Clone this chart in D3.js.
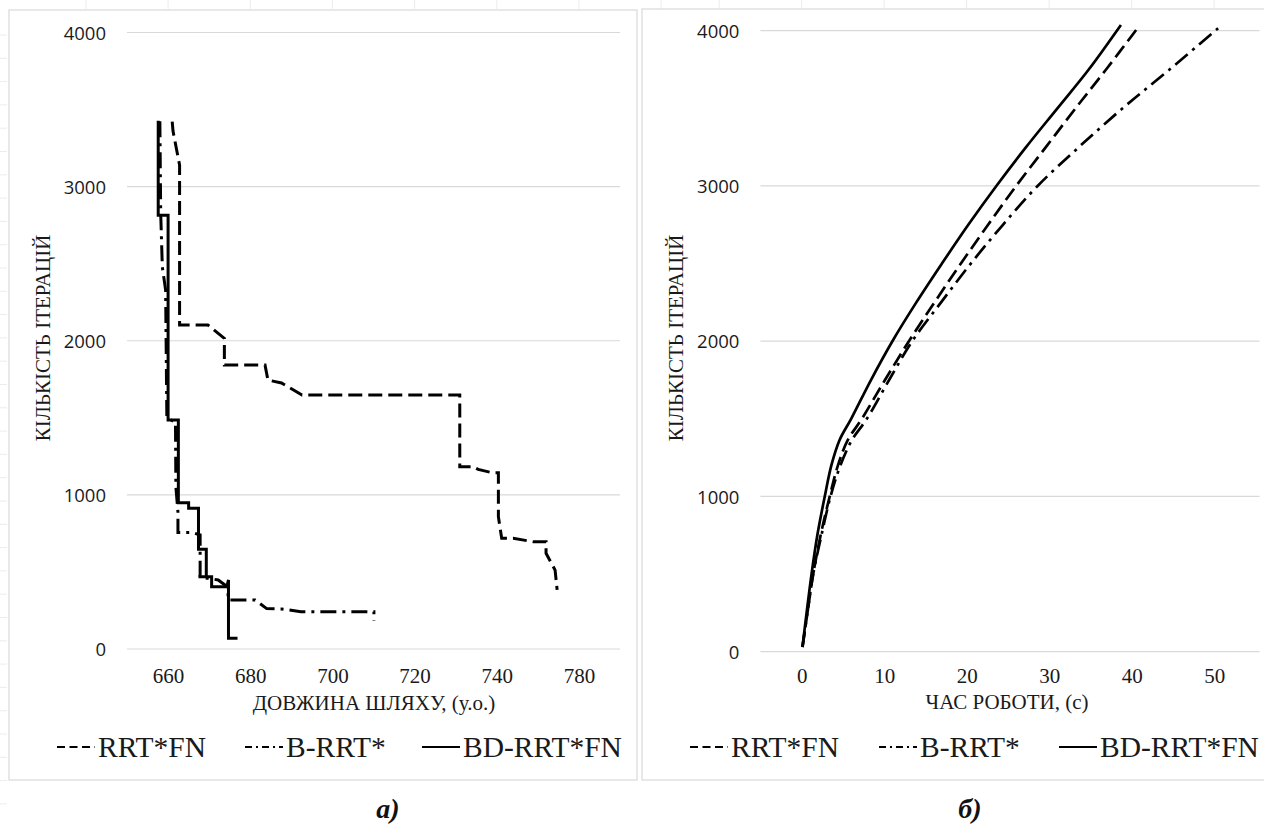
<!DOCTYPE html>
<html>
<head>
<meta charset="utf-8">
<script src="https://cdn.jsdelivr.net/npm/d3@7"></script>
<style>
  html, body { margin: 0; padding: 0; background: #fff; }
  svg { display: block; }
</style>
</head>
<body>
<svg id="chart" width="1264" height="834"></svg>
<script>
// ---------------- DATA ----------------
// Panel a): path length (x) vs iterations (y)
const lenTickValues = [660, 680, 700, 720, 740, 760];
const lenTickLabels = ["660", "680", "700", "720", "740", "780"];
const iterTicks = [0, 1000, 2000, 3000, 4000];

const rrtFnLen = [[661.0,3421],[661.2,3360],[662.8,3140],[662.8,2102],[669.7,2102],[673.7,2015],[673.7,1842],
  [683.6,1842],[684.3,1745],[687.6,1726],[692.6,1648],[731.0,1648],[731.0,1183],[734.2,1183],[735.5,1165],
  [738.8,1144],[740.4,1144],[740.4,858],[741.2,718],[744.0,718],[748.9,696],[752.0,696],[752.0,621],
  [754.2,512],[754.7,383]];
const bRrtLen = [[658.0,3424],[658.2,2830],[658.6,2478],[659.4,2329],[659.7,1500],[661.8,1470],[661.9,1051],
  [662.4,889],[662.4,756],[665.8,756],[667.8,740],[667.8,467],[672.2,448],[674.6,400],[674.6,318],
  [681.2,318],[684.0,262],[687.6,260],[692.3,242],[710.1,242],[710.1,184]];
const bdRrtFnLen = [[657.6,3427],[657.6,2815],[660.0,2815],[660.0,1486],[662.5,1486],[662.5,949],[665.0,949],
  [665.0,913],[667.4,913],[667.4,647],[669.3,647],[669.3,469],[667.4,469],[670.6,469],[670.6,404],
  [674.3,404],[674.7,448],[674.7,69],[676.9,69]];

// Panel б): run time (x) vs iterations (y)
const timeTicks = [0, 10, 20, 30, 40, 50];
const rrtFnTime = [[0.1,30],[0.7,250],[1.4,500],[2.3,750],[3.4,1000],[4.4,1200],[5.6,1364],[7.3,1500],
  [10.1,1750],[13.0,2000],[16.1,2250],[19.3,2500],[22.6,2750],[26.0,3000],[29.6,3250],[33.2,3500],
  [36.9,3750],[40.7,4015]];
const bRrtTime = [[0.1,30],[0.7,250],[1.4,500],[2.4,750],[3.5,1000],[4.7,1200],[6.1,1364],[7.9,1500],
  [10.6,1750],[13.4,2000],[16.9,2250],[20.5,2500],[24.4,2750],[28.6,3000],[33.6,3250],[38.9,3500],
  [44.6,3750],[50.7,4026]];
const bdRrtFnTime = [[0.1,30],[0.6,250],[1.2,500],[1.9,750],[2.8,1000],[3.6,1200],[4.6,1364],[6.0,1500],
  [8.4,1750],[11.0,2000],[13.9,2250],[17.0,2500],[20.2,2750],[23.6,3000],[27.2,3250],[31.0,3500],
  [34.8,3750],[38.7,4037]];

const seriesNames = ["RRT*FN", "B-RRT*", "BD-RRT*FN"];
const xTitleA = "ДОВЖИНА ШЛЯХУ, (у.о.)";
const xTitleB = "ЧАС РОБОТИ, (с)";
const yTitle = "КІЛЬКІСТЬ ІТЕРАЦІЙ";
const captions = ["а)", "б)"];

// ---------------- STYLE ----------------
const chartDash = ["14,6", "16,6,3,6", null];
const legendDash = ["8,4.5", "7,4,2,4", null];
const serif = "'Liberation Serif', 'Times New Roman', serif";
const sans = "'Open Sans', 'Liberation Sans', Arial, sans-serif";

const svg = d3.select("#chart");

// faint page marks outside panels
const faint = "#ececec";

function panel(cfg) {
  const g = svg.append("g");
  // border
  g.append("rect").attr("x", cfg.box[0]).attr("y", cfg.box[1]).attr("width", cfg.box[2]).attr("height", cfg.box[3])
    .attr("fill", "#fff").attr("stroke", "#d9d9d9").attr("stroke-width", 1.2);

  const x = cfg.x, y = cfg.y;
  const [x0, x1] = x.range();
  // gridlines
  g.append("g").selectAll("line").data(iterTicks).join("line")
    .attr("x1", x0).attr("x2", x1)
    .attr("y1", d => y(d)).attr("y2", d => y(d))
    .attr("stroke", "#d9d9d9").attr("stroke-width", 1.2);

  // y axis labels
  const yAxis = d3.axisLeft(y).tickValues(iterTicks).tickSize(0).tickPadding(21).tickFormat(d3.format("d"));
  const ya = g.append("g").attr("transform", `translate(${x0},0)`).call(yAxis);
  ya.select(".domain").remove();
  ya.selectAll("text").attr("font-family", sans).attr("font-size", 18.5).attr("fill", "#1a1a1a").attr("dy", "0.36em");

  // x axis labels
  const xAxis = d3.axisBottom(x).tickValues(cfg.xTicks).tickSize(0).tickPadding(0)
    .tickFormat((d, i) => cfg.xLabels ? cfg.xLabels[i] : d);
  const xa = g.append("g").attr("transform", `translate(0,${y(0)})`).call(xAxis);
  xa.select(".domain").remove();
  xa.selectAll("text").attr("font-family", serif).attr("font-size", 21).attr("fill", "#1a1a1a")
    .attr("dy", null).attr("y", cfg.xLabelDy);

  // titles
  g.append("text").attr("x", cfg.xTitlePos[0]).attr("y", cfg.xTitlePos[1]).attr("text-anchor", "middle")
    .attr("font-family", serif).attr("font-size", 21).attr("fill", "#1a1a1a").text(cfg.xTitle);
  g.append("text").attr("transform", `translate(${cfg.yTitlePos[0]},${cfg.yTitlePos[1]}) rotate(-90)`)
    .attr("text-anchor", "middle").attr("font-family", serif).attr("font-size", 21).attr("fill", "#1a1a1a").text(yTitle);

  // lines
  const line = d3.line().x(d => x(d[0])).y(d => y(d[1]));
  if (cfg.curve) line.curve(cfg.curve);
  cfg.series.forEach((s, i) => {
    g.append("path").datum(s).attr("d", line).attr("fill", "none").attr("stroke", "#000")
      .attr("stroke-width", cfg.lineWidth).attr("stroke-linejoin", "miter")
      .attr("stroke-dasharray", chartDash[i]);
  });

  // legend
  cfg.legendX.forEach((lx, i) => {
    g.append("line").attr("x1", lx).attr("x2", lx + 38).attr("y1", cfg.legendY - 10).attr("y2", cfg.legendY - 10)
      .attr("stroke", "#000").attr("stroke-width", 2.2).attr("stroke-dasharray", legendDash[i]);
    g.append("text").attr("x", lx + 41).attr("y", cfg.legendY).attr("font-family", serif).attr("font-size", 29.5)
      .attr("fill", "#1a1a1a").text(seriesNames[i]);
  });

  // caption
  g.append("text").attr("x", cfg.captionPos[0]).attr("y", cfg.captionPos[1]).attr("text-anchor", "middle")
    .attr("font-family", serif).attr("font-size", 28).attr("font-weight", "bold").attr("font-style", "italic")
    .attr("fill", "#111").text(cfg.caption);

  // faint marks above the panel, aligned with the x scale
  g.append("g").selectAll("line").data(cfg.topMarks).join("line")
    .attr("x1", d => x(d)).attr("x2", d => x(d)).attr("y1", 0).attr("y2", cfg.box[1] - 1)
    .attr("stroke", faint).attr("stroke-width", 1);
}

// left-edge faint marks
svg.append("g").selectAll("line").data(d3.range(0, 34)).join("line")
  .attr("x1", 0).attr("x2", 7).attr("y1", d => 35 + d * 23.3).attr("y2", d => 35 + d * 23.3)
  .attr("stroke", faint).attr("stroke-width", 1);

const xA = d3.scaleLinear().domain([650, 770]).range([127, 620]);
const yA = d3.scaleLinear().domain([0, 4000]).range([649, 32.5]);
panel({
  box: [9, 10, 628, 770],
  x: xA, y: yA,
  xTicks: lenTickValues, xLabels: lenTickLabels, xLabelDy: 34,
  xTitle: xTitleA, xTitlePos: [374, 710],
  yTitlePos: [50, 338],
  series: [rrtFnLen, bRrtLen, bdRrtFnLen],
  lineWidth: 3,
  legendX: [57, 245, 422], legendY: 757,
  caption: captions[0], captionPos: [388, 818],
  topMarks: d3.range(640, 781, 20)
});

const xB = d3.scaleLinear().domain([-5, 55.5]).range([760.4, 1259.5]);
const yB = d3.scaleLinear().domain([0, 4000]).range([651.7, 30.7]);
panel({
  box: [642, 9, 640, 771],
  x: xB, y: yB,
  xTicks: timeTicks, xLabels: null, xLabelDy: 31,
  xTitle: xTitleB, xTitlePos: [1007, 709],
  yTitlePos: [683, 338],
  series: [rrtFnTime, bRrtTime, bdRrtFnTime],
  curve: d3.curveCatmullRom.alpha(0.5),
  lineWidth: 2.7,
  legendX: [690, 879, 1059], legendY: 757,
  caption: captions[1], captionPos: [970, 818],
  topMarks: d3.range(-10, 51, 10)
});
</script>
</body>
</html>
